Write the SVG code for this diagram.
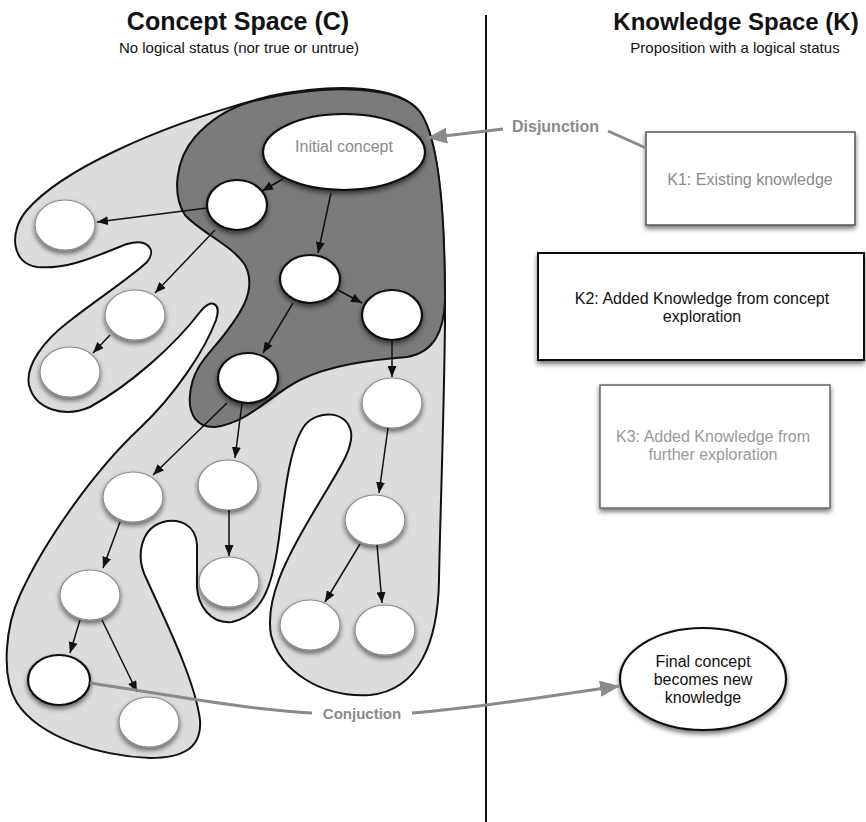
<svg xmlns="http://www.w3.org/2000/svg" width="866" height="822" viewBox="0 0 866 822">
<style>
.title{font-family:"Liberation Sans",Arial,sans-serif;font-weight:bold;fill:#111;text-anchor:middle}
.sub{font-family:"Liberation Sans",Arial,sans-serif;font-size:15px;fill:#111;text-anchor:middle}
.lbl{font-family:"Liberation Sans",Arial,sans-serif;font-size:16px;text-anchor:middle}
.glbl{font-family:"Liberation Sans",Arial,sans-serif;font-weight:bold;fill:#8a8a8a}
.strong{fill:#fff;stroke:#111;stroke-width:2.2;filter:url(#sh)}
.soft{fill:#fff;stroke:#8c8c8c;stroke-width:1.2;filter:url(#sh)}
.arr{fill:none;stroke:#111;stroke-width:1.5;marker-end:url(#ah)}
.garr{fill:none;stroke:#8a8a8a;stroke-width:3}
.box{fill:#fff;filter:url(#sh)}
</style>
<defs>
<filter id="sh" x="-30%" y="-30%" width="160%" height="175%">
<feDropShadow dx="0" dy="3" stdDeviation="2.5" flood-color="#000" flood-opacity="0.55"/>
</filter>
<marker id="ah" markerUnits="userSpaceOnUse" markerWidth="11" markerHeight="9" refX="11" refY="4.5" orient="auto">
<path d="M0,0 L11,4.5 L0,9 z" fill="#111"/>
</marker>
<marker id="gah" markerUnits="userSpaceOnUse" markerWidth="20" markerHeight="16" refX="20" refY="8" orient="auto">
<path d="M0,0 L20,8 L0,16 z" fill="#8a8a8a"/>
</marker>
</defs>
<rect width="866" height="822" fill="#fff"/>

<g id="headings">
<text class="title" x="238" y="30" font-size="25">Concept Space (C)</text>
<text class="sub" x="239" y="53">No logical status (nor true or untrue)</text>
<text class="title" x="736" y="30" font-size="24">Knowledge Space (K)</text>
<text class="sub" x="735" y="53">Proposition with a logical status</text>
</g>

<line id="divider" x1="486" y1="15" x2="486" y2="822" stroke="#111" stroke-width="2"/>

<g id="concept-space">
<path id="outer-region" fill="#dcdcdc" stroke="#111" stroke-width="2" d="M 270 96 C 340 82 400 86 420 112 C 440 140 445 220 445 320 C 444 420 440 520 439 580 C 438 640 420 690 370 695 C 320 698 280 670 271 635 C 265 600 285 560 313 513 C 335 475 354 450 351 432 C 347 410 318 410 305 425 C 290 445 285 490 280 530 C 274 580 265 615 232 622 C 210 624 198 605 197 587 L 197 545 C 196 525 180 518 163 522 C 142 528 134 555 147 580 C 165 620 195 680 200 720 C 202 750 180 758 150 758 C 100 756 40 738 17 703 C 0 675 6 625 20 595 C 45 540 95 470 140 428 C 175 395 205 350 216 320 C 222 302 210 298 200 312 C 175 345 130 385 90 407 C 65 418 35 410 29 385 C 25 365 45 340 67 323 C 100 297 130 278 147 262 C 157 250 148 238 127 244 C 100 254 70 270 37 267 C 12 264 8 232 27 210 C 60 172 150 128 270 96 Z"/>
<path id="inner-region" fill="#7b7b7b" stroke="#111" stroke-width="2" d="M 250 102 C 330 82 400 86 420 112 C 440 140 445 220 445 300 C 444 330 435 352 407 357 C 370 360 330 365 300 380 C 270 395 250 422 215 427 C 198 428 188 415 190 395 C 192 370 205 358 220 340 C 240 315 258 290 245 265 C 232 245 200 232 185 215 C 172 195 175 160 195 137 C 210 120 230 108 250 102 Z"/>
</g>

<g id="n-initial"><ellipse class="strong" cx="344" cy="152" rx="81" ry="38"/><text x="344" y="152" font-family="Liberation Sans, Arial, sans-serif" font-size="16" fill="#8a8a8a" text-anchor="middle">Initial concept</text></g>
<g id="n1"><ellipse class="strong" cx="237" cy="205" rx="30" ry="25"/></g>
<g id="n2"><ellipse class="soft" cx="65" cy="225" rx="30" ry="25"/></g>
<g id="n3"><ellipse class="strong" cx="310" cy="279" rx="30" ry="24"/></g>
<g id="n4"><ellipse class="strong" cx="392" cy="315" rx="30" ry="25"/></g>
<g id="n5"><ellipse class="soft" cx="135" cy="315" rx="30" ry="25"/></g>
<g id="n6"><ellipse class="soft" cx="70" cy="372" rx="30" ry="25"/></g>
<g id="n7"><ellipse class="strong" cx="248" cy="378" rx="30" ry="25"/></g>
<g id="n8"><ellipse class="soft" cx="392" cy="403" rx="30" ry="25"/></g>
<g id="n9"><ellipse class="soft" cx="133" cy="497" rx="30" ry="25"/></g>
<g id="n10"><ellipse class="soft" cx="228" cy="485" rx="30" ry="25"/></g>
<g id="n11"><ellipse class="soft" cx="229" cy="582" rx="30" ry="25"/></g>
<g id="n12"><ellipse class="soft" cx="375" cy="520" rx="30" ry="25"/></g>
<g id="n13"><ellipse class="soft" cx="90" cy="595" rx="30" ry="25"/></g>
<g id="n14"><ellipse class="soft" cx="310" cy="625" rx="30" ry="25"/></g>
<g id="n15"><ellipse class="soft" cx="385" cy="630" rx="30" ry="25"/></g>
<g id="n16"><ellipse class="strong" cx="59" cy="680" rx="31" ry="25"/></g>
<g id="n17"><ellipse class="soft" cx="149" cy="722" rx="30" ry="25"/></g>

<g id="k1"><rect class="box" x="646" y="132" width="209" height="93" stroke="#555" stroke-width="1.5"/><text class="lbl" x="750" y="185" fill="#8a8a8a">K1: Existing knowledge</text></g>
<g id="k2"><rect class="box" x="538" y="253" width="326" height="107" stroke="#111" stroke-width="2"/><text class="lbl" x="702" y="304" fill="#111">K2: Added Knowledge from concept</text><text class="lbl" x="702" y="322" fill="#111">exploration</text></g>
<g id="k3"><rect class="box" x="600" y="385" width="230" height="123" stroke="#666" stroke-width="1.5"/><text class="lbl" x="713" y="442" fill="#999">K3: Added Knowledge from</text><text class="lbl" x="713" y="460" fill="#999">further exploration</text></g>
<g id="final"><ellipse class="strong" cx="703" cy="679" rx="83" ry="51"/><text class="lbl" x="703" y="667" fill="#111">Final concept</text><text class="lbl" x="703" y="685" fill="#111">becomes new</text><text class="lbl" x="703" y="703" fill="#111">knowledge</text></g>

<g id="connectors">
<path class="arr" d="M283 179 L262 191"/>
<path class="arr" d="M207 208 L97 222"/>
<path class="arr" d="M331 193 L318 253"/>
<path class="arr" d="M215 230 L155 293"/>
<path class="arr" d="M338 290 L362 303"/>
<path class="arr" d="M293 303 L263 353"/>
<path class="arr" d="M110 335 L93 353"/>
<path class="arr" d="M392 340 L392 377"/>
<path class="arr" d="M227 403 L153 475"/>
<path class="arr" d="M242 403 L235 458"/>
<path class="arr" d="M388 428 L379 493"/>
<path class="arr" d="M120 522 L103 568"/>
<path class="arr" d="M229 510 L229 556"/>
<path class="arr" d="M360 544 L325 602"/>
<path class="arr" d="M377 545 L382 603"/>
<path class="arr" d="M80 620 L70 653"/>
<path class="arr" d="M102 620 L137 692"/>
<path class="garr" d="M503 129 L427 138" marker-end="url(#gah)"/>
<path class="garr" d="M608 131 L646 148"/>
<path class="garr" d="M90 683 C 170 695 250 710 312 713"/>
<path class="garr" d="M412 713 C 480 708 540 697 620 686" marker-end="url(#gah)"/>
<text class="glbl" x="512" y="132" font-size="16">Disjunction</text>
<text class="glbl" x="362" y="719" font-size="15" text-anchor="middle">Conjuction</text>
</g>
</svg>
